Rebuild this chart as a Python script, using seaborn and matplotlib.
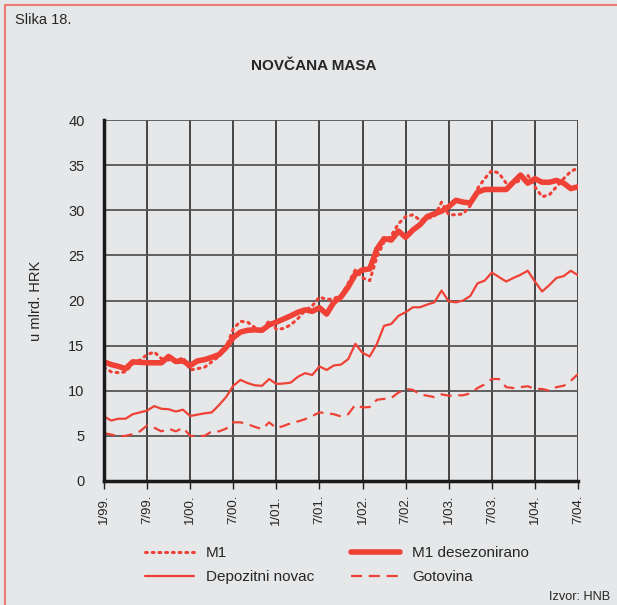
import numpy as np
import pandas as pd
import matplotlib
matplotlib.use('Agg')
import matplotlib.pyplot as plt
from matplotlib.lines import Line2D
import seaborn as sns


##########
# Podaci
##########
# mjesecno, 1/99. - 7/04.
m1 = [12.6, 12.1, 12.0, 12.1, 13.0, 13.4, 14.0, 14.3, 13.55, 13.4, 13.2, 13.7,
      12.3, 12.45, 12.6, 13.2, 13.8, 14.85, 16.85, 17.7, 17.6, 17.0, 16.5, 17.8,
      16.8, 16.9, 17.3, 18.0, 18.9, 19.4, 20.4, 20.1, 20.2, 20.6, 21.9, 23.4,
      22.5, 22.2, 24.8, 26.5, 27.2, 28.5, 29.3, 29.5, 28.9, 29.1, 29.3, 30.9,
      29.5, 29.5, 29.6, 30.5, 32.4, 33.5, 34.4, 34.1, 33.0, 33.0, 33.3, 33.9,
      32.6, 31.5, 31.7, 32.6, 33.5, 34.3, 34.7]
m1_sa = [13.2, 12.9, 12.7, 12.45, 13.2, 13.15, 13.1, 13.1, 13.1, 13.8, 13.25, 13.3,
         12.8, 13.3, 13.45, 13.7, 14.0, 14.8, 15.9, 16.5, 16.7, 16.75, 16.7, 17.3,
         17.6, 17.95, 18.3, 18.7, 18.96, 18.8, 19.2, 18.5, 19.8, 20.4, 21.5, 22.9,
         23.4, 23.5, 25.7, 26.85, 26.7, 27.7, 27.0, 27.8, 28.4, 29.3, 29.6, 29.9,
         30.4, 31.1, 30.9, 30.8, 32.0, 32.3, 32.3, 32.3, 32.3, 33.1, 33.9, 33.0,
         33.5, 33.1, 33.1, 33.3, 33.0, 32.4, 32.6]
depoziti = [7.15, 6.7, 6.9, 6.9, 7.4, 7.6, 7.8, 8.3, 8.0, 7.95, 7.7, 7.9,
            7.2, 7.35, 7.5, 7.6, 8.4, 9.3, 10.55, 11.2, 10.85, 10.6, 10.55, 11.3,
            10.75, 10.8, 10.9, 11.55, 11.95, 11.75, 12.7, 12.3, 12.8, 12.9, 13.5, 15.2,
            14.2, 13.8, 15.2, 17.2, 17.4, 18.3, 18.7, 19.25, 19.25, 19.55, 19.8, 21.1,
            19.9, 19.8, 20.0, 20.5, 21.9, 22.2, 23.1, 22.6, 22.1, 22.5, 22.85, 23.3,
            22.1, 21.0, 21.7, 22.5, 22.7, 23.3, 22.8]
gotovina = [5.3, 5.15, 4.96, 5.0, 5.2, 5.5, 6.15, 5.9, 5.5, 5.8, 5.5, 5.9,
            5.0, 5.0, 5.0, 5.5, 5.5, 5.8, 6.5, 6.5, 6.3, 6.0, 5.75, 6.5,
            5.85, 6.1, 6.4, 6.6, 6.85, 7.2, 7.6, 7.5, 7.4, 7.15, 7.4, 8.45,
            8.15, 8.2, 9.0, 9.1, 9.2, 9.8, 10.2, 10.1, 9.6, 9.45, 9.3, 9.6,
            9.45, 9.5, 9.5, 9.7, 10.3, 10.7, 11.3, 11.3, 10.4, 10.3, 10.4, 10.5,
            10.2, 10.2, 10.0, 10.4, 10.55, 11.1, 11.85]
tick_labels = ['1/99.', '7/99.', '1/00.', '7/00.', '1/01.', '7/01.',
               '1/02.', '7/02.', '1/03.', '7/03.', '1/04.', '7/04.']

df = pd.DataFrame({'mjesec': np.arange(len(m1)), 'M1': m1, 'M1 desezonirano': m1_sa,
                   'Depozitni novac': depoziti, 'Gotovina': gotovina})

#######
# Stil
#######
bg = '#e6e7e9'
red = '#ef4136'
sns.set_style('white')
plt.rcParams['font.family'] = ['Liberation Sans', 'DejaVu Sans']

fig = plt.figure(figsize=(6.17, 6.05), dpi=100, facecolor=bg)
ax = fig.add_axes([104 / 617, 1 - 481 / 605, 474 / 617, 361 / 605], facecolor=bg)

sns.lineplot(data=df, x='mjesec', y='M1', ax=ax, color=red, lw=2.2,
             linestyle=(0, (0.6, 1.6)), dash_capstyle='round', label='M1')
sns.lineplot(data=df, x='mjesec', y='M1 desezonirano', ax=ax, color=red, lw=4,
             label='M1 desezonirano')
sns.lineplot(data=df, x='mjesec', y='Depozitni novac', ax=ax, color=red, lw=1.6,
             label='Depozitni novac')
sns.lineplot(data=df, x='mjesec', y='Gotovina', ax=ax, color=red, lw=1.6,
             linestyle=(0, (5, 3)), label='Gotovina')

ax.set_xlim(0, 66)
ax.set_ylim(0, 40)
ax.set_xticks(np.arange(0, 67, 6))
ax.set_xticklabels(tick_labels, rotation=90, fontsize=9.5)
ax.set_yticks(np.arange(0, 41, 5))
ax.tick_params(axis='y', labelsize=10.5, length=6, width=1, color='#222', pad=8)
ax.tick_params(axis='x', length=6, width=1, color='#222', pad=4, bottom=True)
ax.set_xlabel('')
ax.set_ylabel('u mlrd. HRK', fontsize=10.5, labelpad=18)

ax.grid(axis='x', color='#1a1a1a', lw=1.1)
ax.grid(axis='y', color='#555555', lw=1.3)
ax.set_axisbelow(True)
for s in ['top', 'right']:
    ax.spines[s].set_visible(False)
for s in ['left', 'bottom']:
    ax.spines[s].set_color('#1a1a1a')
    ax.spines[s].set_linewidth(2.5)

# Legenda (redovi: M1 | M1 desezonirano, Depozitni novac | Gotovina)
handles, labels = ax.get_legend_handles_labels()
ax.get_legend().remove()
order = [0, 2, 1, 3]
fig.legend([handles[i] for i in order], [labels[i] for i in order], ncol=2,
           loc='center', bbox_to_anchor=(337 / 617, 1 - 565 / 605), frameon=False,
           fontsize=11, handlelength=3.2, handletextpad=0.8,
           columnspacing=2.4, labelspacing=0.65)

# Tekstovi
fig.text(15 / 617, 1 - 20 / 605, 'Slika 18.', fontsize=10.5, va='center')
fig.text(314 / 617, 1 - 66 / 605, 'NOVČANA MASA', fontsize=11,
         fontweight='bold', ha='center', va='center')
fig.text(610 / 617, 1 - 597 / 605, 'Izvor: HNB', fontsize=9.2, ha='right', va='center')

# Okvir
border = '#ee7a72'
fig.add_artist(Line2D([5 / 617, 5 / 617], [0, 1 - 5 / 605], color=border, lw=1.5,
                      transform=fig.transFigure))
fig.add_artist(Line2D([5 / 617, 1], [1 - 5 / 605, 1 - 5 / 605], color=border, lw=1.5,
                      transform=fig.transFigure))

fig.savefig('out.png', dpi=100, facecolor=bg)
